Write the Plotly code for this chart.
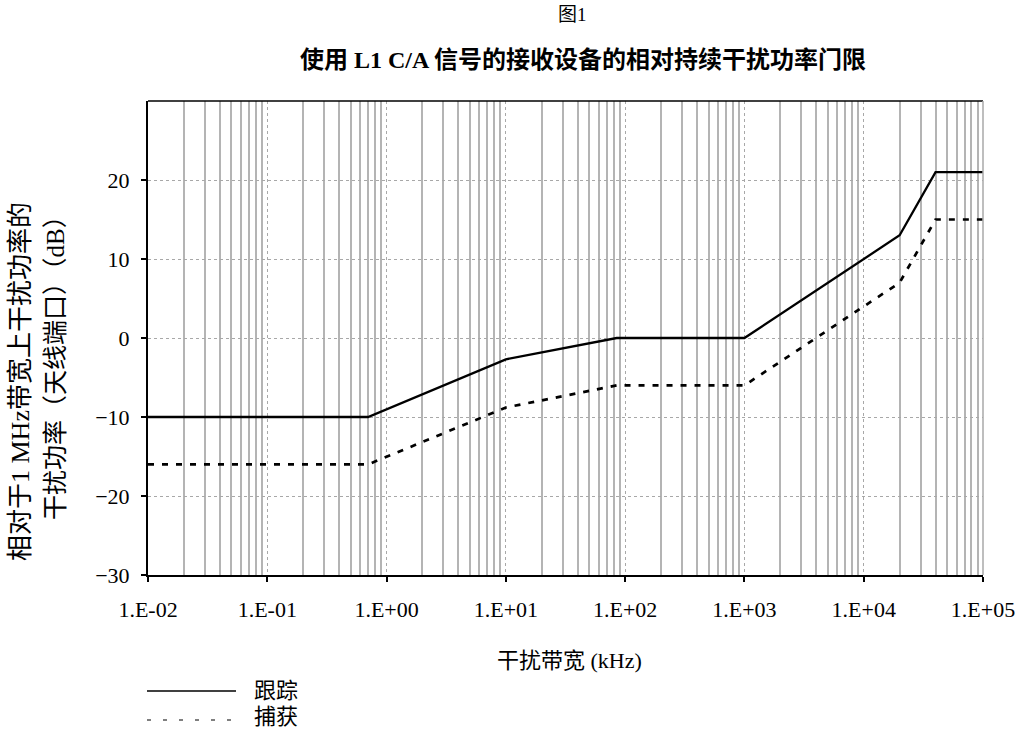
import plotly.graph_objects as go

bw_track = [0.01, 0.7, 10, 85, 1000, 20000, 40000, 100000]
track = [-10, -10, -2.7, 0, 0, 13, 21, 21]
bw_acq = [0.01, 0.7, 10, 85, 1000, 20000, 40000, 100000]
acq = [-16, -16, -8.8, -6, -6, 7, 15, 15]

x_tickvals = [1e-2, 1e-1, 1e0, 1e1, 1e2, 1e3, 1e4, 1e5]
x_ticktext = ["1.E-02", "1.E-01", "1.E+00", "1.E+01", "1.E+02", "1.E+03", "1.E+04", "1.E+05"]
y_tickvals = [-30, -20, -10, 0, 10, 20]
minor_vals = [m * 10 ** e for e in range(-2, 5) for m in range(2, 10)]

FONT = "Liberation Serif, Times New Roman, Noto Sans CJK SC, serif"

fig = go.Figure()
fig.add_trace(go.Scatter(x=bw_track, y=track, mode="lines", name="跟踪",
                         line=dict(color="black", width=2.3), showlegend=False))
fig.add_trace(go.Scatter(x=bw_acq, y=acq, mode="lines", name="捕获",
                         line=dict(color="black", width=2.7, dash="6px,8px"), showlegend=False))

fig.update_layout(
    width=1019, height=733,
    margin=dict(l=148, r=36, t=101, b=158, autoexpand=False),
    plot_bgcolor="white", paper_bgcolor="white",
    font=dict(family=FONT, size=22, color="black"),
)
fig.update_xaxes(
    type="log", range=[-2, 5], automargin=False,
    tickmode="array", tickvals=x_tickvals, ticktext=x_ticktext,
    ticks="outside", ticklen=5, tickwidth=1.5, tickcolor="black",
    ticklabelstandoff=9, ticklabeloverflow="allow",
    showline=True, linecolor="black", linewidth=2,
    showgrid=True, gridcolor="#a8a8a8", gridwidth=1, griddash="dot",
    minor=dict(tickmode="array", tickvals=minor_vals, showgrid=True,
               gridcolor="#b4b4b4", gridwidth=1.5, griddash="solid", ticklen=0),
    tickfont=dict(family=FONT, size=22),
    zeroline=False,
)
fig.update_yaxes(
    range=[-30, 30], automargin=False,
    tickmode="array", tickvals=y_tickvals,
    ticks="outside", ticklen=5, tickwidth=1.5, tickcolor="black",
    ticklabelstandoff=7,
    showline=True, linecolor="black", linewidth=2,
    showgrid=True, gridcolor="#a8a8a8", gridwidth=1, griddash="dot",
    tickfont=dict(family=FONT, size=22),
    zeroline=False,
)

# top and right borders
fig.add_shape(type="line", xref="paper", yref="paper", x0=0, x1=1, y0=1, y1=1,
              line=dict(color="black", width=1.5))
fig.add_shape(type="line", xref="paper", yref="paper", x0=1, x1=1, y0=0, y1=1,
              line=dict(color="#a8a8a8", width=1.5))

# titles
fig.add_annotation(text="图1", xref="paper", yref="paper", x=0.508, y=1, yshift=87,
                   showarrow=False, font=dict(family=FONT, size=19), yanchor="middle")
fig.add_annotation(text="<b>使用 L1 C/A 信号的接收设备的相对持续干扰功率门限</b>",
                   xref="paper", yref="paper", x=0.521, y=1, yshift=41,
                   showarrow=False, font=dict(family=FONT, size=24), yanchor="middle")

# x title
fig.add_annotation(text="干扰带宽 (kHz)", xref="paper", yref="paper", x=0.505, y=0,
                   yshift=-85, showarrow=False, font=dict(family=FONT, size=22),
                   yanchor="middle")

# y title (two rotated lines)
fig.add_annotation(text="相对于1 MHz带宽上干扰功率的", xref="paper", yref="paper",
                   x=0, xshift=-128, y=0.5, yshift=-44, textangle=-90, showarrow=False,
                   font=dict(family=FONT, size=26), xanchor="center", yanchor="middle")
fig.add_annotation(text="干扰功率（天线端口）（dB）", xref="paper", yref="paper",
                   x=0, xshift=-93, y=0.5, yshift=-24, textangle=-90, showarrow=False,
                   font=dict(family=FONT, size=25), xanchor="center", yanchor="middle")

# legend drawn manually below the chart
fig.add_shape(type="line", xref="paper", yref="paper", ysizemode="pixel", yanchor=0,
              x0=-0.0012, x1=0.1054, y0=-116, y1=-116,
              line=dict(color="black", width=1.5))
fig.add_shape(type="line", xref="paper", yref="paper", ysizemode="pixel", yanchor=0,
              x0=-0.0012, x1=0.1054, y0=-145, y1=-145,
              line=dict(color="black", width=1.2, dash="4px,12px"))
fig.add_annotation(text="跟踪", xref="paper", yref="paper", x=0.1246, y=0, yshift=-115,
                   showarrow=False, xanchor="left", yanchor="middle",
                   font=dict(family=FONT, size=22))
fig.add_annotation(text="捕获", xref="paper", yref="paper", x=0.1246, y=0, yshift=-141,
                   showarrow=False, xanchor="left", yanchor="middle",
                   font=dict(family=FONT, size=22))

fig.write_html("out.html", config={"displayModeBar": False},
               post_script="document.body.style.margin='0';document.body.style.overflow='hidden';")
